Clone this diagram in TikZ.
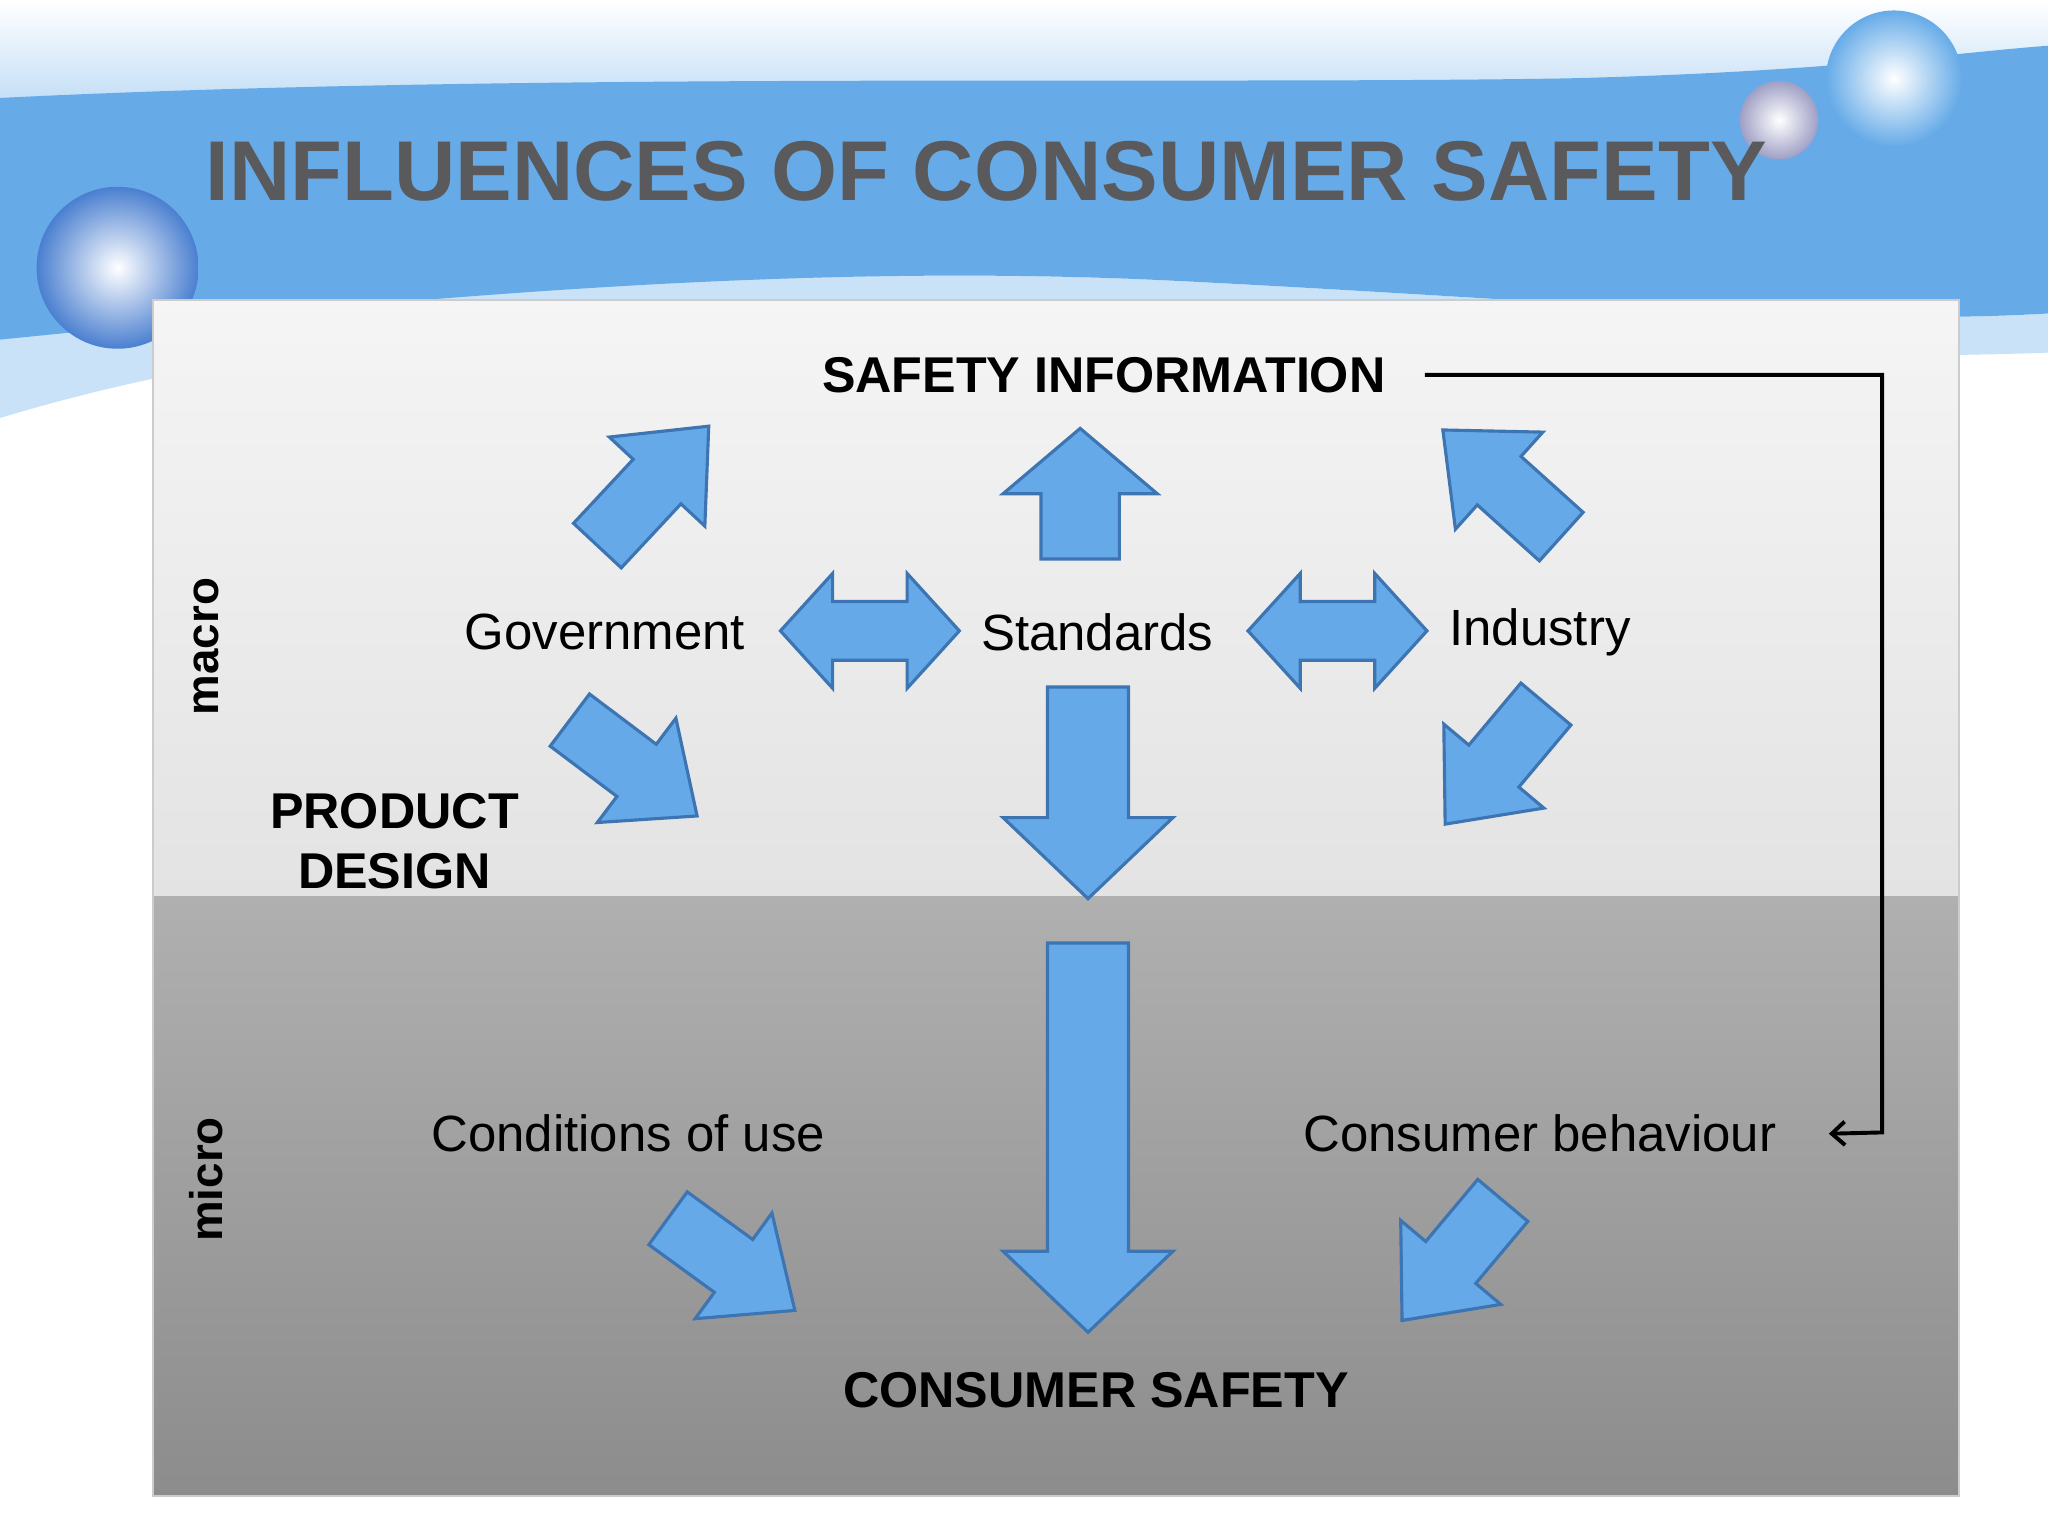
\documentclass[tikz,border=0pt]{standalone}
\usepackage{fontspec}
\setmainfont{Liberation Sans}
\usetikzlibrary{arrows.meta}
\definecolor{af}{HTML}{65A9E9}
\definecolor{ab}{HTML}{3D74B2}
\definecolor{band}{HTML}{66ABE8}
\definecolor{tgray}{HTML}{5A5A5C}
\definecolor{sph}{HTML}{4A7FD0}
\tikzset{blk/.style={fill=af,draw=ab,line width=2.4pt,line join=miter},
  lbl/.style={font=\fontsize{39}{42}\selectfont,inner sep=0pt},
  blbl/.style={font=\bfseries\fontsize{38.5}{46}\selectfont,inner sep=0pt,align=center}}
\newcommand\barrow[7]{% x y angle L w h hl
 \begin{scope}[shift={(#1,#2)},rotate=#3]
 \path[blk] ({-#4/2},{-#5/2}) -- ({#4/2-#7},{-#5/2}) -- ({#4/2-#7},{-#6/2}) -- ({#4/2},0) -- ({#4/2-#7},{#6/2}) -- ({#4/2-#7},{#5/2}) -- ({-#4/2},{#5/2}) -- cycle;
 \end{scope}}
\newcommand\darrow[6]{% x y L w h hl
 \begin{scope}[shift={(#1,#2)}]
 \path[blk] ({-#3/2},0) -- ({-#3/2+#6},{#5/2}) -- ({-#3/2+#6},{#4/2}) -- ({#3/2-#6},{#4/2}) -- ({#3/2-#6},{#5/2}) -- ({#3/2},0) -- ({#3/2-#6},{-#5/2}) -- ({#3/2-#6},{-#4/2}) -- ({-#3/2+#6},{-#4/2}) -- ({-#3/2+#6},{-#5/2}) -- cycle;
 \end{scope}}
\begin{document}
\begin{tikzpicture}[x=1pt,y=-1pt]
\useasboundingbox (0,0) rectangle (1568,1176);
\fill[white] (0,0) rectangle (1568,1176);
% banner
\fill[top color=white,bottom color=band!40] (0,0) rectangle (1568,80);
\fill[band!35] (0,250) .. controls (300,230) and (600,200) .. (900,215) .. controls (1200,230) and (1400,250) .. (1568,240) -- (1568,270) .. controls (1300,280) and (900,250) .. (500,250) .. controls (250,255) and (100,290) .. (0,320) -- cycle;
\fill[band] (0,75) .. controls (400,55) and (900,65) .. (1200,60) .. controls (1400,55) and (1500,40) .. (1568,35) -- (1568,240) .. controls (1400,250) and (1200,230) .. (900,215) .. controls (600,200) and (300,230) .. (0,260) -- cycle;
\shade[inner color=white,outer color=sph] (90,205) circle (62);
\shade[inner color=white,outer color=band] (1450,60) circle (52);
\shade[inner color=white,outer color=blue!25!gray!60] (1362,92) circle (30);
\node[font=\bfseries\fontsize{65}{70}\selectfont,text=tgray,inner sep=0pt] (title) at (755,131) {INFLUENCES OF CONSUMER SAFETY};
% main box
\fill[top color=gray!8,bottom color=gray!22] (117,230) rectangle (1500,686);
\fill[top color=gray!62,bottom color=gray!90] (117,686) rectangle (1500,1145);
\draw[gray!40,line width=1.5pt] (117,230) rectangle (1500,1145);
% labels
\node[blbl] (si) at (845,287) {SAFETY INFORMATION};
\node[lbl] (gov) at (463,484) {Government};
\node[lbl] (std) at (840,484) {Standards};
\node[lbl] (ind) at (1179,484) {Industry};
\node[blbl] (pd) at (302,644) {PRODUCT\\DESIGN};
\node[lbl] (cou) at (481,868) {Conditions of use};
\node[lbl] (cb) at (1179,868) {Consumer behaviour};
\node[blbl] (cs) at (839,1064) {CONSUMER SAFETY};
\node[font=\bfseries\fontsize{35}{38}\selectfont,rotate=90,inner sep=0pt] (mac) at (158,495) {macro};
\node[font=\bfseries\fontsize{35}{38}\selectfont,rotate=90,inner sep=0pt] (mic) at (158,903) {micro};
% arrows
\barrow{500}{372}{47}{125}{50}{100}{58}
\barrow{827}{378}{90}{100}{60}{118}{50}
\barrow{1150}{370}{138}{122}{50}{100}{58}
\darrow{666}{483}{137}{45}{88}{40}
\darrow{1024}{483}{137}{45}{88}{40}
\barrow{485}{588}{-37}{122}{50}{100}{58}
\barrow{833}{607}{-90}{162}{62}{130}{62}
\barrow{1145}{585}{-130}{120}{50}{100}{58}
\barrow{833}{871}{-90}{298}{62}{130}{62}
\barrow{560}{968}{-36}{120}{50}{100}{58}
\barrow{1112}{965}{-130}{120}{50}{100}{58}
% feedback
\coordinate (c1) at (1441,287);
\coordinate (c2) at (1441,867);
\draw[line width=3pt,-{Straight Barb[length=10pt,width=18pt,line width=3pt]}] ([xshift=30pt]si.east) -- (c1) -- (c2) -- ([xshift=40pt]cb.east);
\end{tikzpicture}
\end{document}
